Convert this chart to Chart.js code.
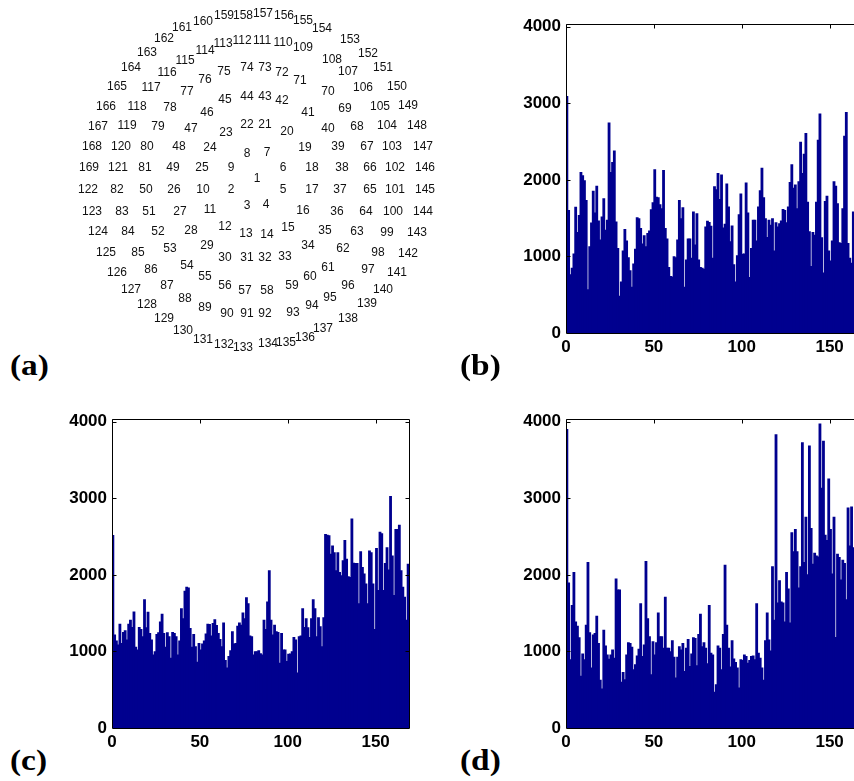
<!DOCTYPE html>
<html>
<head>
<meta charset="utf-8">
<script src="https://cdn.jsdelivr.net/npm/chart.js@4/dist/chart.umd.min.js"></script>
<style>
  html, body { margin: 0; padding: 0; background: #fff; }
  #page { position: relative; width: 854px; height: 781px; overflow: hidden; background: #fff; }
  canvas { position: absolute; }
  .tag {
    position: absolute;
    font: bold 29px 'Liberation Serif', 'Times New Roman', serif;
    line-height: 29px;
    color: #000;
    transform: scaleX(1.15);
    transform-origin: left top;
    white-space: nowrap;
  }
</style>
</head>
<body>
<div id="page">
  <canvas id="layout" width="410" height="360" style="left:60px;top:0px"></canvas>
  <canvas id="histB" width="363" height="354" style="left:510px;top:9px"></canvas>
  <canvas id="histC" width="363" height="354" style="left:56px;top:404px"></canvas>
  <canvas id="histD" width="363" height="354" style="left:510px;top:404px"></canvas>
  <div class="tag" style="left:10px;top:351px">(a)</div>
  <div class="tag" style="left:460px;top:351px">(b)</div>
  <div class="tag" style="left:10px;top:746px">(c)</div>
  <div class="tag" style="left:460px;top:746px">(d)</div>
</div>
<script>
// element positions (offset from the array centre, y grows downward), element k = index + 1
const posX = [
  0, -26, -10, 9, 26, 26, 10, -10, -26, -54,
  -47, -32, -11, 10, 31, 46, 55, 55, 48, 30,
  8, -10, -31, -47, -55, -83, -77, -66, -50, -32,
  -10, 8, 28, 51, 68, 80, 83, 85, 81, 71,
  51, 25, 8, -10, -32, -50, -66, -78, -84, -111,
  -108, -99, -87, -70, -52, -32, -12, 10, 35, 53,
  71, 86, 100, 109, 113, 113, 110, 100, 88, 71,
  43, 25, 8, -10, -33, -52, -70, -87, -99, -110,
  -112, -140, -135, -129, -119, -106, -90, -72, -52, -30,
  -10, 8, 36, 55, 73, 91, 111, 121, 130, 136,
  138, 138, 135, 130, 123, 106, 91, 75, 46, 26,
  5, -15, -34, -52, -72, -90, -106, -120, -130, -136,
  -139, -169, -165, -159, -151, -140, -126, -110, -93, -74,
  -54, -33, -14, 11, 29, 48, 66, 91, 110, 126,
  140, 151, 160, 166, 168, 168, 166, 160, 151, 140,
  126, 111, 93, 65, 46, 27, 6, -14, -33, -54,
  -75, -93, -110, -126, -140, -151, -159, -165, -168
];
const posY = [
  0, 11, 27, 26, 11, -11, -26, -25, -11, 11,
  31, 48, 55, 56, 49, 32, 11, -11, -31, -47,
  -54, -54, -46, -31, -11, 11, 33, 52, 67, 79,
  79, 79, 78, 67, 52, 33, 11, -11, -32, -50,
  -66, -78, -82, -82, -79, -66, -50, -32, -11, 11,
  33, 53, 70, 87, 98, 107, 112, 112, 107, 98,
  89, 70, 53, 33, 11, -11, -32, -52, -70, -87,
  -98, -106, -111, -111, -107, -99, -87, -71, -52, -32,
  -11, 11, 33, 53, 74, 91, 107, 120, 129, 135,
  135, 135, 134, 127, 119, 107, 91, 74, 54, 33,
  11, -11, -32, -53, -72, -91, -107, -119, -131, -136,
  -138, -138, -135, -128, -118, -106, -91, -72, -53, -32,
  -11, 11, 33, 53, 74, 94, 111, 126, 140, 152,
  161, 166, 169, 165, 164, 159, 150, 140, 125, 111,
  94, 75, 54, 33, 11, -11, -32, -53, -73, -92,
  -111, -125, -139, -150, -158, -163, -165, -163, -163, -157,
  -151, -140, -126, -111, -92, -72, -52, -32, -11
];

// counts per element for the three recordings
const countsB = [
  3095, 1608, 767, 853, 1039, 1650, 1319, 1543, 2103, 2060,
  1996, 1737, 573, 1134, 1444, 1858, 1573, 1922, 1470, 1220,
  1522, 1759, 1349, 1478, 2750, 2103, 2233, 2384, 1457, 1112,
  487, 672, 1078, 1358, 1207, 991, 819, 603, 909, 1099,
  1513, 1500, 1371, 1168, 1276, 1134, 1306, 1340, 1616, 1707,
  2138, 1780, 1772, 1681, 1629, 2129, 1371, 1233, 862, 746,
  737, 1004, 991, 1220, 1737, 1500, 1642, 603, 961, 1233,
  1233, 983, 1586, 1155, 1565, 961, 862, 853, 840, 1392,
  1466, 1450, 1400, 983, 1918, 1879, 2090, 1750, 2069, 1379,
  1427, 1953, 1651, 1198, 1405, 897, 672, 1017, 1552, 1823,
  1034, 1039, 1966, 1573, 733, 1112, 1478, 1478, 1207, 1651,
  1866, 2159, 1772, 1500, 1254, 1478, 1414, 1500, 1078, 1448,
  1392, 1435, 1470, 1621, 1608, 1448, 1651, 1974, 2203, 1897,
  1940, 1629, 1983, 2500, 2090, 2340, 2612, 1716, 1328, 875,
  1319, 1284, 1716, 2526, 2866, 1250, 789, 1724, 1793, 1078,
  948, 1207, 1983, 1922, 1694, 1185, 1177, 1629, 2578, 2888,
  1177, 983, 918, 1586
];
const countsC = [
  2522, 1220, 1142, 1090, 1362, 1112, 1254, 1276, 1155, 1362,
  1414, 1319, 1522, 1060, 1026, 1319, 1293, 1198, 1681, 1315,
  1517, 1241, 1155, 961, 1004, 1228, 1250, 1392, 1491, 1241,
  1060, 1250, 1198, 918, 1254, 1241, 1198, 961, 1142, 1565,
  1435, 1793, 1845, 1836, 1306, 1060, 1228, 1069, 866, 1112,
  1026, 1103, 1142, 1233, 1362, 1358, 1207, 1371, 1422, 1345,
  1241, 1164, 1069, 1379, 888, 789, 940, 1017, 1263, 1103,
  1112, 1336, 1379, 1349, 1509, 1435, 1707, 1629, 1207, 1198,
  961, 1004, 1004, 1017, 975, 961, 1414, 1293, 1651, 2060,
  1414, 1220, 1349, 1263, 1254, 853, 1241, 1026, 1026, 875,
  970, 974, 1004, 1190, 1155, 724, 1198, 1207, 1565, 1319,
  1435, 1315, 1190, 1435, 1681, 1565, 1198, 1448, 1328, 1069,
  1448, 2534, 2526, 2517, 2276, 2384, 2297, 2060, 2297, 2039,
  1996, 2190, 2457, 2211, 1983, 1974, 2737, 2159, 2155, 2155,
  1629, 2310, 2103, 2017, 1888, 1629, 2319, 2297, 1888, 1293,
  2353, 1802, 2565, 2543, 1802, 2155, 2362, 2069, 3030, 2254,
  1737, 2599, 2599, 2655, 2060, 1845, 1716, 1414, 2147
];
const countsD = [
  3905, 1901, 897, 1608, 2039, 1392, 1336, 1185, 681, 974,
  897, 1349, 2168, 1250, 789, 1220, 1241, 1466, 1112, 629,
  517, 1284, 1078, 961, 905, 961, 1026, 918, 1953, 1810,
  1810, 603, 733, 638, 961, 1121, 1112, 1060, 767, 832,
  948, 1034, 1629, 940, 1090, 2181, 1435, 1198, 703, 1134,
  961, 1121, 1509, 1198, 1198, 1047, 1716, 1047, 1047, 1004,
  1147, 931, 659, 931, 1069, 1026, 1112, 746, 1047, 1164,
  810, 974, 1185, 1177, 819, 1228, 1491, 1069, 1121, 1047,
  845, 1608, 983, 961, 474, 573, 1078, 1047, 767, 1228,
  2134, 1349, 1047, 802, 1147, 909, 862, 789, 530, 897,
  888, 961, 940, 853, 888, 940, 948, 897, 1629, 983,
  918, 789, 629, 1147, 1509, 1155, 1013, 2112, 1414, 3836,
  1638, 1931, 1651, 1638, 1392, 2039, 1823, 1379, 2556, 2310,
  2599, 2310, 1836, 2112, 3733, 2168, 2759, 2009, 3690, 2612,
  2147, 2289, 2254, 2241, 3978, 3138, 3754, 2526, 2457, 3259,
  2599, 2017, 2759, 1190, 2276, 2233, 1940, 2198, 2155, 1681,
  2879, 2384, 2892, 2362
];

const xTickValues = [0, 50, 100, 150];
const yTickValues = [0, 1000, 2000, 3000, 4000];
const ELEMENT_COUNT = 169;
const Y_TOP = 4034;

const BAR_BLUE = '#00008f';
const tickFont = { family: "'Liberation Sans', Arial, sans-serif", size: 17, weight: 'bold' };

// draws the element numbers at the scatter positions
const numberLabels = {
  id: 'numberLabels',
  afterDatasetsDraw(chart) {
    const ctx = chart.ctx;
    const meta = chart.getDatasetMeta(0);
    ctx.save();
    ctx.fillStyle = '#111';
    ctx.font = "12px 'Liberation Sans', Arial, sans-serif";
    ctx.textAlign = 'center';
    ctx.textBaseline = 'middle';
    meta.data.forEach((pt, i) => {
      ctx.fillText(String(i + 1), pt.x, pt.y + 1);
    });
    ctx.restore();
  }
};

// boxed axes with inward tick marks
const axesFrame = {
  id: 'axesFrame',
  afterDatasetsDraw(chart) {
    const { ctx, chartArea: a } = chart;
    const x = chart.scales.x, y = chart.scales.y;
    const L = Math.round(a.left) + 0.5, R = Math.round(a.right) + 0.5;
    const T = Math.round(a.top) + 0.5, B = Math.round(a.bottom) + 0.5;
    ctx.save();
    ctx.strokeStyle = '#000';
    ctx.lineWidth = 1;
    ctx.beginPath();
    ctx.rect(L, T, R - L, B - T);
    y.ticks.forEach(t => {
      if (t.value === 0) return;
      const py = Math.round(y.getPixelForValue(t.value)) + 0.5;
      ctx.moveTo(L, py); ctx.lineTo(L + 4, py);
      ctx.moveTo(R, py); ctx.lineTo(R - 4, py);
    });
    x.ticks.forEach(t => {
      const px = Math.round(x.getPixelForValue(t.value)) + 0.5;
      ctx.moveTo(px, T); ctx.lineTo(px, T + 4);
    });
    ctx.stroke();
    ctx.restore();
  }
};

new Chart(document.getElementById('layout'), {
  type: 'scatter',
  data: {
    datasets: [{
      data: posX.map((v, i) => ({ x: v, y: posY[i] })),
      pointRadius: 0,
      pointHoverRadius: 0
    }]
  },
  options: {
    responsive: false,
    animation: false,
    events: [],
    layout: { padding: 0 },
    plugins: { legend: { display: false }, tooltip: { enabled: false } },
    scales: {
      x: { display: false, min: -197, max: 213 },
      y: { display: false, min: -178, max: 182, reverse: true }
    }
  },
  plugins: [numberLabels]
});

function histogram(id, counts) {
  return new Chart(document.getElementById(id), {
    type: 'bar',
    data: {
      datasets: [{
        data: counts.map((v, i) => ({ x: i + 0.5, y: v })),
        backgroundColor: BAR_BLUE,
        borderWidth: 0,
        // slight overlap so neighbouring bars leave no anti-aliased seams
        barPercentage: 1.6,
        categoryPercentage: 1
      }]
    },
    options: {
      responsive: false,
      animation: false,
      events: [],
      layout: { padding: { top: 12, right: 10, bottom: 0, left: 0 } },
      plugins: { legend: { display: false }, tooltip: { enabled: false } },
      scales: {
        x: {
          type: 'linear',
          min: 0,
          max: ELEMENT_COUNT,
          offset: false,
          grid: { display: false, drawTicks: false },
          border: { display: false },
          afterBuildTicks: s => { s.ticks = xTickValues.map(v => ({ value: v })); },
          ticks: { color: '#000', font: tickFont, padding: 4, maxRotation: 0, autoSkip: false,
                   callback: v => String(v) },
          afterFit: s => { s.height = 30; }
        },
        y: {
          min: 0,
          max: Y_TOP,
          grid: { display: false, drawTicks: false },
          border: { display: false },
          afterBuildTicks: s => { s.ticks = yTickValues.map(v => ({ value: v })); },
          ticks: { color: '#000', font: tickFont, padding: 5, autoSkip: false,
                   callback: v => String(v) },
          afterFit: s => { s.width = 56; }
        }
      }
    },
    plugins: [axesFrame]
  });
}

histogram('histB', countsB);
histogram('histC', countsC);
histogram('histD', countsD);
</script>
</body>
</html>
